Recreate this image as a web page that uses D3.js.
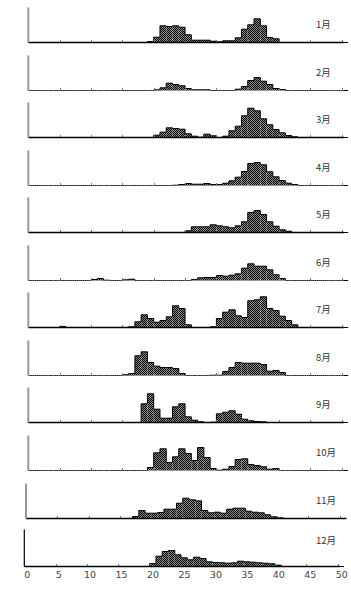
<!DOCTYPE html>
<html>
<head>
<meta charset="utf-8">
<script src="https://cdn.jsdelivr.net/npm/d3@7"></script>
<style>
  body { margin: 0; background: #fff; }
  svg { display: block; }
  .mlabel { font-family: "Noto Sans CJK JP", sans-serif; font-size: 9.5px; fill: #333; }
  .xlab text { font-family: "DejaVu Sans", sans-serif; font-size: 9.5px; fill: #444; }
</style>
</head>
<body>
<svg id="chart" width="351" height="597"></svg>
<script>
"use strict";

// month names, one panel each
var months = ["1月", "2月", "3月", "4月", "5月", "6月", "7月", "8月", "9月", "10月", "11月", "12月"];

// histogram bins of width 1: [bin start, count]
var jan = [[19,1],[20,5.3],[21,16.7],[22,16],[23,16.7],[24,15.3],[25,7.7],[26,2.3],[27,2.3],[28,2.3],[29,1.3],[30,0.7],[31,1.7],[32,1.7],[33,4.7],[34,13.3],[35,17.7],[36,23.7],[37,16.7],[38,5],[39,3.7]];
var feb = [[20,0.7],[21,2.7],[22,7.3],[23,6],[24,4.7],[25,2],[26,0.7],[27,0.7],[28,0.7],[33,1.3],[34,4],[35,10],[36,13],[37,9.3],[38,6],[39,2],[40,1]];
var mar = [[20,2.3],[21,5.3],[22,9.7],[23,9],[24,8.3],[25,3.7],[26,1.3],[27,0.3],[28,3.3],[29,1.7],[31,1.3],[32,6.7],[33,11.3],[34,21.7],[35,29.3],[36,26.7],[37,18.7],[38,12.7],[39,8],[40,4.7],[41,2],[42,0.7]];
var apr = [[23,0.3],[24,1],[25,2],[26,1.3],[27,1.3],[28,2],[29,1],[30,1],[31,2.3],[32,4.7],[33,8.3],[34,14],[35,22],[36,23],[37,20.7],[38,13.7],[39,8.7],[40,5],[41,2.3],[42,1]];
var may = [[25,1.7],[26,5.7],[27,5.7],[28,5.7],[29,7.7],[30,6.7],[31,5.7],[32,4.7],[33,6.7],[34,10.7],[35,20],[36,22],[37,18],[38,10.7],[39,6.3],[40,2.7],[41,1.3]];
var jun = [[10,1],[11,2],[12,0.3],[15,0.7],[16,1.3],[26,1],[27,2.7],[28,3],[29,3],[30,5],[31,4.3],[32,5.3],[33,6.7],[34,12.3],[35,16.7],[36,14.3],[37,14.3],[38,10.7],[39,5.7],[40,2]];
var jul = [[5,1],[16,0.7],[17,5.7],[18,12.7],[19,9],[20,5.3],[21,7],[22,10.7],[23,21.7],[24,19],[25,2.7],[29,0.7],[30,9],[31,15.3],[32,17.7],[33,11.7],[34,10],[35,26.7],[36,27.7],[37,30.7],[38,19],[39,17],[40,11.3],[41,7],[42,2.7]];
var aug = [[15,0.7],[16,2],[17,19.7],[18,23.7],[19,13],[20,9.3],[21,8],[22,8],[23,7],[24,2],[29,0.3],[30,0.3],[31,4],[32,8],[33,13],[34,12.3],[35,12.3],[36,12.3],[37,11],[38,4.3],[39,5],[40,3]];
var sep = [[18,18.7],[19,28.7],[20,13.3],[21,4.3],[22,4.3],[23,15.7],[24,18.7],[25,5.7],[26,2.3],[27,0.7],[29,0.3],[30,8.7],[31,10.3],[32,11.7],[33,8.3],[34,3.3],[35,1.7],[36,1],[37,0.7]];
var oct = [[19,3],[20,17.7],[21,21.7],[22,8],[23,13.7],[24,21.7],[25,17],[26,10],[27,23],[28,13],[29,2],[30,0.3],[31,1.3],[32,4],[33,11],[34,11.7],[35,6],[36,5],[37,3.7],[38,1.3],[39,2]];
var nov = [[17,2],[18,8],[19,5.3],[20,5.3],[21,6],[22,9.3],[23,9.3],[24,15.3],[25,20.3],[26,18.7],[27,17.7],[28,8],[29,5.7],[30,6.3],[31,5.3],[32,9.3],[33,10.3],[34,10.3],[35,7.3],[36,6.3],[37,5.7],[38,3.7],[39,1.7],[40,0.7]];
var dec = [[20,3],[21,10.3],[22,15],[23,16],[24,11.7],[25,8.7],[26,6.7],[27,9.3],[28,8],[29,4.7],[30,4],[31,3.7],[32,3.3],[33,3.7],[34,5.3],[35,4.7],[36,4.3],[37,3.7],[38,3.3],[39,2.7],[40,1.3]];

var series = [jan, feb, mar, apr, may, jun, jul, aug, sep, oct, nov, dec];
var xTicks = [0, 5, 10, 15, 20, 25, 30, 35, 40, 45, 50];

// panel layout (the scanned panels are not quite aligned)
var baselines = [42.5, 90.5, 137.5, 185.5, 232.5, 280.5, 327.5, 375.5, 422.5, 470.5, 518.5, 566.5];
var lefts = [28.3, 28.3, 28.3, 28.3, 28.3, 28.3, 28.3, 28.3, 28.3, 28.3, 26, 24.3];
var unit = 6.27;

var svg = d3.select("#chart");

var defs = svg.append("defs");
var pat = defs.append("pattern").attr("id", "dither")
	.attr("patternUnits", "userSpaceOnUse")
	.attr("width", 2).attr("height", 2);
pat.append("rect").attr("width", 2).attr("height", 2).attr("fill", "#8a8a8a");
pat.append("rect").attr("x", 0).attr("y", 0).attr("width", 1).attr("height", 1).attr("fill", "#000");
pat.append("rect").attr("x", 1).attr("y", 1).attr("width", 1).attr("height", 1).attr("fill", "#000");

series.forEach(function(data, i) {
	var base = baselines[i],
		left = lefts[i],
		last = i === 11,
		axisH = last ? 37 : 35;

	var x = d3.scaleLinear().domain([0, 50]).range([left, left + 50 * unit]);
	var y = d3.scaleLinear().domain([0, 35]).range([base, base - 35]);

	var g = svg.append("g").attr("class", "panel");

	// bars
	g.selectAll("rect.bar").data(data).enter().append("rect")
		.attr("class", "bar")
		.attr("x", function(d) { return x(d[0]); })
		.attr("width", function(d) { return x(d[0] + 1) - x(d[0]); })
		.attr("y", function(d) { return y(d[1]); })
		.attr("height", function(d) { return base - y(d[1]); })
		.attr("fill", "url(#dither)");

	// outline of the histogram
	var byBin = {};
	data.forEach(function(d) { byBin[d[0]] = d[1]; });
	var pts = [];
	for (var b = 0; b <= 50; b++) {
		var v = byBin[b] || 0;
		pts.push([x(b), y(v)], [x(b + 1), y(v)]);
	}
	g.append("path")
		.attr("d", d3.line()(pts))
		.attr("fill", "none")
		.attr("stroke", "#000")
		.attr("stroke-width", 1);

	// ticks on the baseline
	g.selectAll("line.tick").data(xTicks).enter().append("line")
		.attr("x1", function(d) { return Math.round(x(d)) + 0.5; })
		.attr("x2", function(d) { return Math.round(x(d)) + 0.5; })
		.attr("y1", base).attr("y2", base - 2.5)
		.attr("stroke", "#777").attr("stroke-width", 1);

	// baseline
	var solid = (i % 2 === 0) || i >= 10;
	g.append("line")
		.attr("x1", x(0)).attr("x2", x(50) + (i === 10 ? 7 : 2))
		.attr("y1", base).attr("y2", base)
		.attr("stroke", solid ? "#000" : "#888")
		.attr("stroke-width", solid ? 1.4 : 1.2)
		.attr("stroke-dasharray", solid ? null : "1,1");

	// left axis
	g.append("line")
		.attr("x1", x(0)).attr("x2", x(0))
		.attr("y1", base - axisH).attr("y2", base)
		.attr("stroke", last ? "#000" : "#999")
		.attr("stroke-width", last ? 1.2 : 2);

	g.append("text")
		.attr("class", "mlabel")
		.attr("x", 316)
		.attr("y", base - (last ? 23 : 15))
		.text(months[i]);
});

// shared x labels under the last panel
var xl = d3.scaleLinear().domain([0, 50]).range([26.7, 341.2]);
svg.append("g")
	.attr("class", "xlab")
	.attr("transform", "translate(0,571)")
	.call(d3.axisBottom(xl).tickValues(xTicks).tickSize(0).tickPadding(0))
	.call(function(a) { a.select(".domain").remove(); });
</script>
</body>
</html>
